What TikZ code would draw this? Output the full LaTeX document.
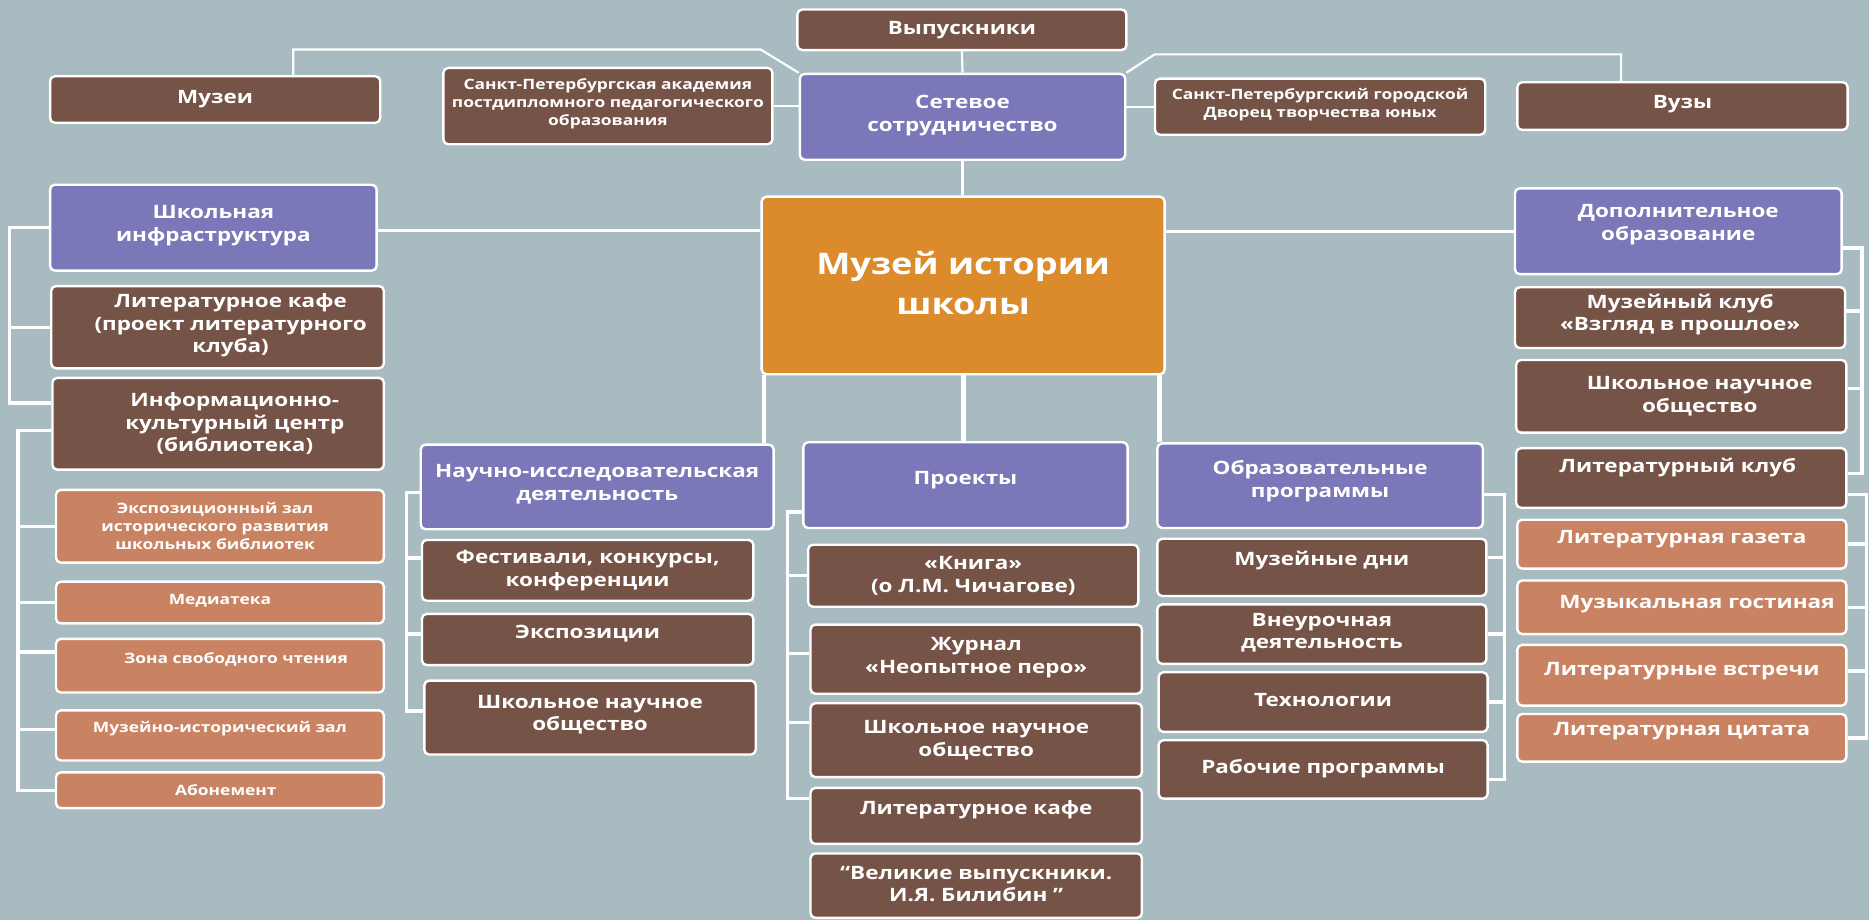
\documentclass[tikz,border=0pt]{standalone}
\usepackage{fontspec}
\setmainfont{Open Sans}[FakeStretch=1.22]
\usetikzlibrary{calc}
\definecolor{bgc}{HTML}{A7BBC1}
\definecolor{brownc}{HTML}{765347}
\definecolor{purplec}{HTML}{7A78B8}
\definecolor{orangec}{HTML}{DB8A2C}
\definecolor{salmonc}{HTML}{CA8362}
\pgfdeclarelayer{bglayer}
\pgfdeclarelayer{linelayer}
\pgfsetlayers{bglayer,linelayer,main}
\tikzset{
  boxbase/.style={rectangle, rounded corners=4bp, draw=white, line width=2bp, inner sep=0pt},
  brownbox/.style={boxbase, fill=brownc},
  purplebox/.style={boxbase, fill=purplec},
  salmonbox/.style={boxbase, fill=salmonc},
  orangebox/.style={boxbase, fill=orangec},
  txt/.style={text=white, align=center, inner sep=0pt},
  tb/.style={txt, font=\bfseries\fontsize{15.5}{19}\selectfont},
  tp/.style={txt, font=\bfseries\fontsize{15.5}{19.5}\selectfont},
  tsm/.style={txt, font=\bfseries\fontsize{12}{15}\selectfont},
  tac/.style={txt, font=\bfseries\fontsize{12}{15}\selectfont},
  tor/.style={txt, font=\bfseries\fontsize{25}{33}\selectfont},
  conn/.style={draw=white, line width=2.8bp},
  trunk/.style={draw=white, line width=4bp},
  net/.style={draw=white, line width=1.8bp},
}
\newcommand\bx[8]{%
  \node[#2, minimum width={(#5-#3)*1bp}, minimum height={(#6-#4)*1bp}] (#1) at ({(#3+#5)/2},{(#4+#6)/2}) {};
  \node[#7] (#1-t) at (#1.center) {#8};
}
\begin{document}
\begin{tikzpicture}[x=1bp,y=-1bp]
\useasboundingbox (0,0) rectangle (1568,771.85);
\begin{pgfonlayer}{bglayer}
\fill[bgc] (0,0) rectangle (1568,771.85);
\end{pgfonlayer}

% top
\bx{vyp}{brownbox}{669}{8}{945}{42}{tb}{Выпускники}
\bx{muz}{brownbox}{42}{64}{319}{103}{tb}{Музеи}
\bx{akad}{brownbox}{372}{57}{648}{121}{tac, yshift=2bp}{Санкт-Петербургская академия\\постдипломного педагогического\\образования}
\bx{set}{purplebox}{671}{62}{944}{134}{tp, yshift=1bp}{Сетевое\\сотрудничество}
\bx{dvor}{brownbox}{969}{66}{1246}{113}{tac, yshift=1.5bp}{Санкт-Петербургский городской\\Дворец творчества юных}
\bx{vuz}{brownbox}{1273}{69}{1550}{109}{tb, yshift=2bp}{Вузы}
% center
\bx{orange}{orangebox}{639}{165}{977}{314}{tor, yshift=2bp}{Музей истории\\школы}
% left column
\bx{shk}{purplebox}{42}{155}{316}{227}{tp, yshift=2bp}{Школьная\\инфраструктура}
\bx{litk}{brownbox}{43}{240}{322}{309}{tb, xshift=11bp, yshift=1.5bp}{Литературное кафе\\(проект литературного\\клуба)}
\bx{inf}{brownbox}{44}{317}{322}{394}{tb, xshift=14bp}{Информационно-\\культурный центр\\(библиотека)}
\bx{eksz}{salmonbox}{47}{411}{322}{472}{tsm, xshift=-4bp}{Экспозиционный зал\\исторического развития\\школьных библиотек}
\bx{med}{salmonbox}{47}{488}{322}{523}{tsm, yshift=1.5bp}{Медиатека}
\bx{zona}{salmonbox}{47}{536}{322}{581}{tsm, xshift=13.5bp, yshift=5.5bp}{Зона свободного чтения}
\bx{mzal}{salmonbox}{47}{596}{322}{638}{tsm, yshift=6bp}{Музейно-исторический зал}
\bx{abon}{salmonbox}{47}{648}{322}{678}{tsm, xshift=5bp}{Абонемент}
% column 2
\bx{nauch}{purplebox}{353}{373}{649}{444}{tp, yshift=2.5bp}{Научно-исследовательская\\деятельность}
\bx{fest}{brownbox}{354}{453}{632}{504}{tb}{Фестивали, конкурсы,\\конференции}
\bx{eksp}{brownbox}{354}{515}{632}{558}{tb, yshift=4.5bp}{Экспозиции}
\bx{shnoa}{brownbox}{356}{571}{634}{633}{tb, yshift=2.5bp}{Школьное научное\\общество}
% column 3
\bx{proj}{purplebox}{674}{371}{946}{443}{tp, yshift=4bp}{Проекты}
\bx{kniga}{brownbox}{678}{457}{955}{509}{tb}{«Книга»\\(о Л.М. Чичагове)}
\bx{zhur}{brownbox}{680}{524}{958}{582}{tb, yshift=1.5bp}{Журнал\\«Неопытное перо»}
\bx{shnob}{brownbox}{680}{590}{958}{652}{tb}{Школьное научное\\общество}
\bx{litkb}{brownbox}{680}{661}{958}{708}{tb, yshift=5.5bp}{Литературное кафе}
\bx{vel}{brownbox}{680}{716}{958}{770}{tb, yshift=1.3bp}{“Великие выпускники.\\И.Я. Билибин ”}
% column 4
\bx{obr}{purplebox}{971}{372}{1244}{443}{tp, yshift=3.5bp}{Образовательные\\программы}
\bx{mdni}{brownbox}{971}{452}{1247}{500}{tb, yshift=6bp}{Музейные дни}
\bx{vneur}{brownbox}{971}{507}{1247}{557}{tb, yshift=1bp}{Внеурочная\\деятельность}
\bx{tech}{brownbox}{972}{564}{1248}{614}{tb, yshift=2bp}{Технологии}
\bx{rab}{brownbox}{972}{621}{1248}{670}{tb, yshift=1bp}{Рабочие программы}
% column 5
\bx{dop}{purplebox}{1271}{158}{1545}{230}{tp, yshift=5.5bp}{Дополнительное\\образование}
\bx{mklub}{brownbox}{1271}{241}{1548}{292}{tb, yshift=2.5bp}{Музейный клуб\\«Взгляд в прошлое»}
\bx{shnoc}{brownbox}{1272}{302}{1549}{363}{tb, xshift=15.5bp}{Школьное научное\\общество}
\bx{litklub}{brownbox}{1272}{376}{1549}{426}{tb, xshift=-3bp, yshift=8.5bp}{Литературный клуб}
\bx{gaz}{salmonbox}{1273}{436}{1549}{477}{tb, yshift=4bp}{Литературная газета}
\bx{muzg}{salmonbox}{1273}{487}{1549}{532}{tb, xshift=12.7bp, yshift=2.5bp}{Музыкальная гостиная}
\bx{vstr}{salmonbox}{1273}{541}{1549}{592}{tb, yshift=3.5bp}{Литературные встречи}
\bx{cit}{salmonbox}{1273}{599}{1549}{639}{tb, yshift=5.5bp}{Литературная цитата}

% helper coordinates
\coordinate (bla) at (7.7,0);
\coordinate (blb) at (15,0);
\coordinate (bcb) at (341,0);
\coordinate (bcc) at (660.5,0);
\coordinate (bcd) at (1262,0);
\coordinate (bce) at (1562,0);
\coordinate (bcf) at (1566,0);
\coordinate (tL) at ($(orange.south west)+(3,0)$);
\coordinate (tR) at ($(orange.south east)+(-5,0)$);
\coordinate (netL) at (638,41.5);
\coordinate (netR) at (968.7,45.6);
\coordinate (muzup) at ($(muz.north)+(65.5,0)$);
\coordinate (vuzup) at ($(vuz.north)+(-51.5,0)$);
\coordinate (shkr) at ($(shk.east)+(0,2.5)$);
\coordinate (sa) at ($(inf.west)+(0,-17.5)$);
\coordinate (sb) at ($(inf.west)+(0,5.5)$);
\coordinate (sz) at ($(zona.west)+(0,-11.5)$);
\coordinate (sm) at ($(mzal.west)+(0,-5)$);
\coordinate (n1) at ($(nauch.west)+(0,4.5)$);
\coordinate (n2) at ($(fest.west)+(0,-10.5)$);
\coordinate (n3) at ($(eksp.west)+(0,-4.5)$);
\coordinate (n4) at ($(shnoa.west)+(0,-5.5)$);
\coordinate (p1) at ($(proj.west)+(0,22.6)$);
\coordinate (p3) at ($(zhur.west)+(0,-5)$);
\coordinate (p4) at ($(shnob.west)+(0,-15)$);
\coordinate (p5) at ($(litkb.west)+(0,-14.5)$);
\coordinate (o1) at ($(obr.east)+(0,7.5)$);
\coordinate (o2) at ($(mdni.east)+(0,-8.4)$);
\coordinate (o5) at ($(rab.east)+(0,8.5)$);
\coordinate (d1) at ($(dop.east)+(0,14)$);
\coordinate (d2) at ($(mklub.east)+(0,-5.5)$);
\coordinate (d3) at ($(shnoc.east)+(0,-6.5)$);
\coordinate (d4) at ($(litklub.east)+(0,-4)$);
\coordinate (e1) at ($(litklub.east)+(0,14)$);
\coordinate (e4) at ($(vstr.east)+(0,-3.5)$);

\begin{pgfonlayer}{linelayer}
% network
\draw[net] (muzup) |- (netL) -- (set.north west);
\draw[net] (vyp.south) -- (set.north);
\draw[net] (akad.east) -- (akad.east -| set.west);
\draw[net] (dvor.west) -- (dvor.west -| set.east);
\draw[net] (set.north east) -- (netR) -| (vuzup);
\draw[conn] (set.south) -- (set.south |- orange.north);
% sides
\draw[conn] (shkr) -- (shkr -| orange.west);
\draw[conn] (dop.west) -- (dop.west -| orange.east);
% trunks
\draw[trunk] (tL) -- (tL |- nauch.north);
\draw[trunk] (orange.south) -- (orange.south |- proj.north);
\draw[trunk] (tR) -- (tR |- obr.north);
% left bracket 1
\draw[conn] (shk.west) -| (bla |- sa) -- (sa);
\draw[conn] (litk.west) -- (litk.west -| bla);
% left bracket 2
\draw[conn] (sb) -| (blb |- abon.west) -- (abon.west);
\foreach \p in {eksz.west, med.west, sz, sm} \draw[conn] (\p) -- (\p -| blb);
% column 2
\draw[conn] (n1) -| (bcb |- n4) -- (n4);
\foreach \p in {n2, n3} \draw[conn] (\p) -- (\p -| bcb);
% column 3
\draw[conn] (p1) -| (bcc |- p5) -- (p5);
\foreach \p in {kniga.west, p3, p4} \draw[conn] (\p) -- (\p -| bcc);
% column 4
\draw[conn] (o1) -| (bcd |- o5) -- (o5);
\foreach \p in {o2, vneur.east, tech.east} \draw[conn] (\p) -- (\p -| bcd);
% column 5
\draw[conn] (d1) -| (bce |- d4) -- (d4);
\foreach \p in {d2, d3} \draw[conn] (\p) -- (\p -| bce);
\draw[conn] (e1) -| (bcf |- cit.east) -- (cit.east);
\foreach \p in {gaz.east, muzg.east, e4} \draw[conn] (\p) -- (\p -| bcf);
\end{pgfonlayer}
\end{tikzpicture}
\end{document}
